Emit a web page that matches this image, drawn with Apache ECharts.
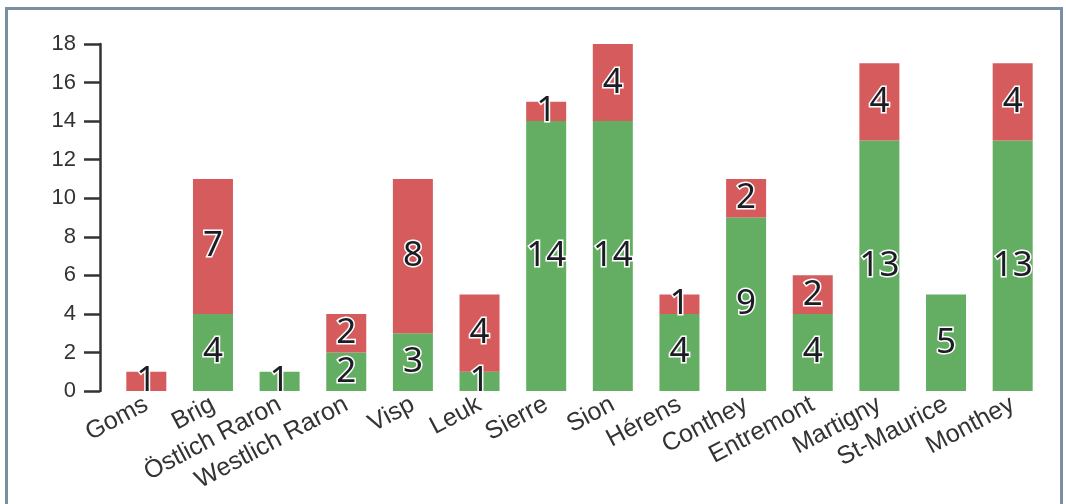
<!DOCTYPE html>
<html><head><meta charset="utf-8">
<script src="https://cdn.jsdelivr.net/npm/echarts@6/dist/echarts.min.js"></script>
<style>html,body{margin:0;padding:0;background:#fff}
#frame{position:absolute;left:5px;top:7px;width:1058px;height:510px;border:3px solid #7890a2;box-sizing:border-box}
#c{position:absolute;left:0;top:0;width:1066px;height:504px}</style>
</head><body>
<div id="frame"></div>
<div id="c"></div>
<script>
const categories = ["Goms","Brig","Östlich Raron","Westlich Raron","Visp","Leuk","Sierre","Sion","Hérens","Conthey","Entremont","Martigny","St-Maurice","Monthey"];
const greenValues = [0,4,1,2,3,1,14,14,4,9,4,13,5,13];
const redValues   = [1,7,0,2,8,4,1,4,1,2,2,4,0,4];
const yTicks = [0,2,4,6,8,10,12,14,16,18];

const chart = echarts.init(document.getElementById('c'));
const labelStyle = {
  show: true, position: 'inside', fontFamily: 'Noto Sans', fontSize: 35,
  color: '#1c1c24', textBorderColor: '#ffffff', textBorderWidth: 3,
  formatter: p => p.value > 0 ? String(p.value) : ''
};
chart.setOption({
  animation: false,
  grid: { left: 113, right: 20, top: 44, bottom: 113, containLabel: false },
  xAxis: {
    type: 'category', data: categories,
    axisLine: { show: false }, axisTick: { show: false },
    axisLabel: { rotate: 28, interval: 0, fontFamily: 'Liberation Sans', fontSize: 25, color: '#333333', margin: 12 }
  },
  yAxis: {
    type: 'value', min: 0, max: 18, interval: 2, offset: 13,
    splitLine: { show: false },
    axisLine: { show: true, lineStyle: { color: '#333', width: 2.5 } },
    axisTick: { show: true, length: 16, lineStyle: { color: '#333', width: 2.5 } },
    axisLabel: { fontFamily: 'Liberation Sans', fontSize: 22, color: '#333333', margin: 24,
      formatter: v => yTicks.includes(v) ? String(v) : '' }
  },
  series: [
    { type: 'bar', stack: 't', data: greenValues, barWidth: 40,
      itemStyle: { color: '#63ae62' }, label: labelStyle },
    { type: 'bar', stack: 't', data: redValues, barWidth: 40,
      itemStyle: { color: '#d55b5c' }, label: labelStyle }
  ]
});
</script>
</body></html>
